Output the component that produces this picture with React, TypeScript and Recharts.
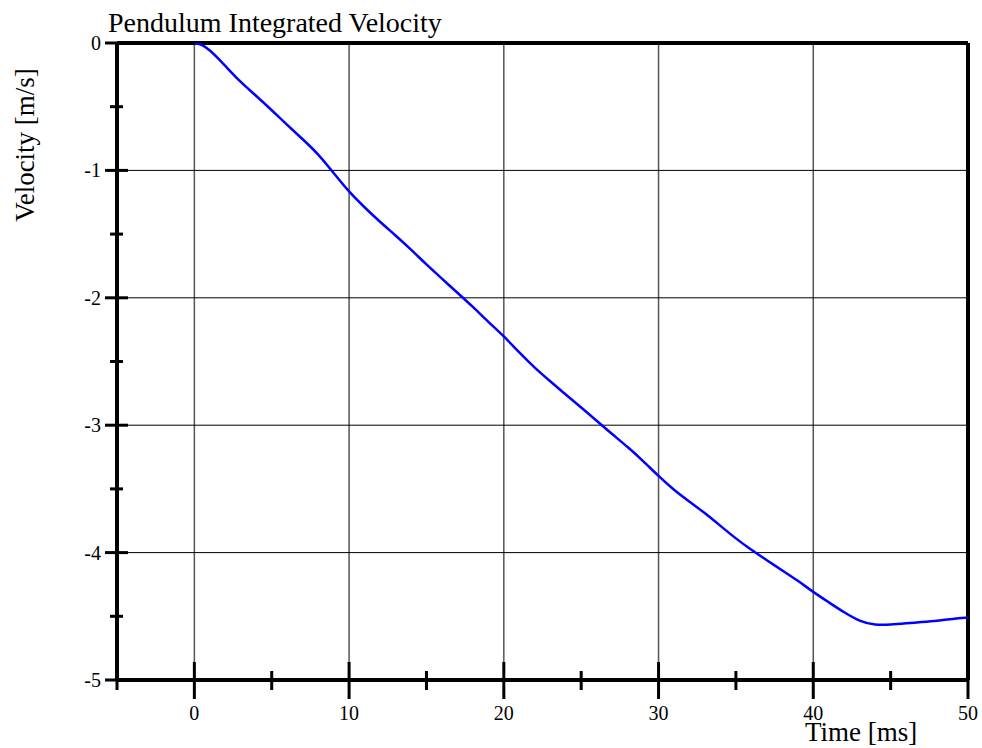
import React from 'react';
import { LineChart, Line, XAxis, YAxis, ReferenceLine } from 'recharts';

// time [ms]
const timeMs = [
  0, 0.5, 1, 1.5, 2, 3, 4, 5, 6, 7, 8, 9, 10, 11, 12, 13, 14, 15, 16, 17, 18, 19, 20,
  21, 22, 23, 24, 25, 26, 27, 28, 29, 30, 31, 32, 33, 34, 35, 36, 37, 38, 39, 40,
  41, 42, 43, 44, 45, 46, 47, 48, 49, 50,
];

// velocity [m/s]
const velocity = [
  0, -0.01, -0.057, -0.115, -0.18, -0.31, -0.415, -0.527, -0.644, -0.755, -0.87, -1.02, -1.17,
  -1.29, -1.405, -1.51, -1.62, -1.74, -1.85, -1.96, -2.07, -2.19, -2.3,
  -2.43, -2.55, -2.655, -2.76, -2.86, -2.965, -3.07, -3.17, -3.28, -3.4,
  -3.51, -3.6, -3.69, -3.79, -3.89, -3.98, -4.06, -4.14, -4.22, -4.31,
  -4.39, -4.47, -4.54, -4.57, -4.565, -4.555, -4.545, -4.535, -4.52, -4.51,
];

const xTicks = [-5, 0, 5, 10, 15, 20, 25, 30, 35, 40, 45, 50];
const yTicks = [0, -0.5, -1, -1.5, -2, -2.5, -3, -3.5, -4, -4.5, -5];
const xGrid = [0, 10, 20, 30, 40];
const yGrid = [-1, -2, -3, -4];

const data = timeMs.map((t, i) => ({ t, v: velocity[i] }));

const FONT = '"Liberation Serif", "Times New Roman", serif';

const XTick = (props: any) => {
  const { x, y, payload } = props;
  const major = payload.value % 10 === 0;
  return (
    <g>
      <line x1={x} x2={x} y1={y - (major ? 18 : 9)} y2={y + (major ? 19 : 10)} stroke="#000" strokeWidth={3} />
      {major && (
        <text x={x} y={y + 40} textAnchor="middle" fontSize={20} fontFamily={FONT} fill="#000">
          {payload.value}
        </text>
      )}
    </g>
  );
};

const YTick = (props: any) => {
  const { x, y, payload } = props;
  const major = Number.isInteger(payload.value);
  return (
    <g>
      <line x1={x - (major ? 12 : 7)} x2={x + (major ? 11 : 6)} y1={y} y2={y} stroke="#000" strokeWidth={3} />
      {major && (
        <text x={x - 16} y={y} textAnchor="end" dominantBaseline="central" fontSize={20} fontFamily={FONT} fill="#000">
          {payload.value}
        </text>
      )}
    </g>
  );
};

export default function App() {
  return (
    <div style={{ position: 'absolute', left: 0, top: 0 }}>
      <LineChart width={982} height={748} data={data} margin={{ top: 43, right: 14, bottom: 28, left: 57 }}>
        {xGrid.map((g) => (
          <ReferenceLine key={'vx' + g} x={g} stroke="#555" strokeWidth={1.5} />
        ))}
        {yGrid.map((g) => (
          <ReferenceLine key={'hy' + g} y={g} stroke="#000" strokeWidth={1} />
        ))}
        <ReferenceLine y={0} stroke="#000" strokeWidth={4} />
        <ReferenceLine x={50} stroke="#000" strokeWidth={4} />
        <XAxis
          dataKey="t"
          type="number"
          domain={[-5, 50]}
          ticks={xTicks}
          height={40}
          tickSize={0}
          tickMargin={0}
          tickLine={false}
          axisLine={{ stroke: '#000', strokeWidth: 4 }}
          tick={<XTick />}
          interval={0}
          allowDataOverflow
        />
        <YAxis
          type="number"
          domain={[-5, 0]}
          ticks={yTicks}
          width={60}
          tickSize={0}
          tickMargin={0}
          tickLine={false}
          axisLine={{ stroke: '#000', strokeWidth: 4 }}
          tick={<YTick />}
          interval={0}
          allowDataOverflow
        />
        <Line
          dataKey="v"
          type="basis"
          stroke="#0000ff"
          strokeWidth={2.5}
          dot={false}
          isAnimationActive={false}
        />
        <text x={108} y={32} fontSize={28} fontFamily={FONT} fill="#000">
          Pendulum Integrated Velocity
        </text>
        <text
          x={25}
          y={145}
          fontSize={27}
          fontFamily={FONT}
          fill="#000"
          textAnchor="middle"
          dominantBaseline="central"
          transform="rotate(-90, 25, 145)"
        >
          Velocity [m/s]
        </text>
        <text x={805} y={741} fontSize={27} fontFamily={FONT} fill="#000">
          Time [ms]
        </text>
      </LineChart>
    </div>
  );
}
